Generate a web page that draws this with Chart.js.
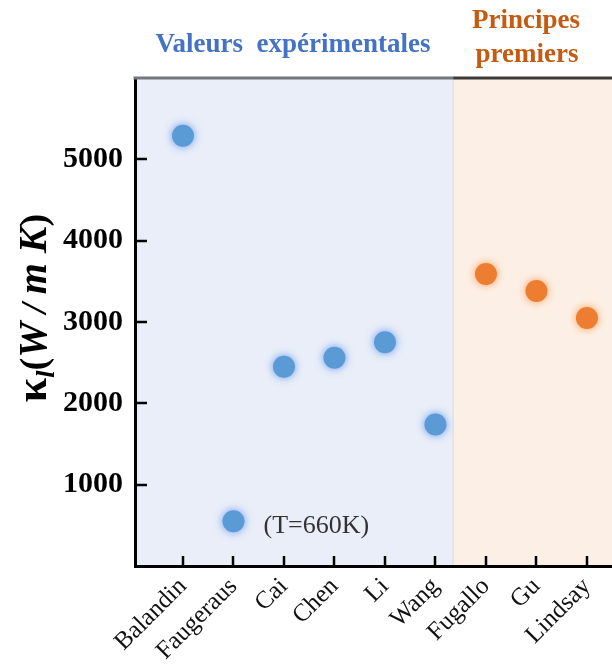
<!DOCTYPE html>
<html>
<head>
<meta charset="utf-8">
<script src="https://cdn.jsdelivr.net/npm/chart.js@4.4.1/dist/chart.umd.min.js"></script>
<style>
  html, body { margin: 0; padding: 0; background: #fff; overflow: hidden; }
  #wrap { width: 612px; height: 666px; }
  canvas { display: block; }
</style>
</head>
<body>
<div id="wrap"><canvas id="c" width="612" height="666"></canvas></div>
<script>
// Lattice thermal conductivity of graphene, W/(m K)
const expLabels = ['Balandin', 'Faugeraus', 'Cai', 'Chen', 'Li', 'Wang'];
const expValues = [5290, 550, 2450, 2560, 2750, 1740];
const dftLabels = ['Fugallo', 'Gu', 'Lindsay'];
const dftValues = [3590, 3380, 3050];
const categories = expLabels.concat(dftLabels);
const yTicks = [1000, 2000, 3000, 4000, 5000];
const groupTitles = ['Valeurs  expérimentales', ['Principes', 'premiers']];
const noteText = '(T=660K)';
const noteIndex = 1; // Faugeraus was measured at 660 K

const SERIF = '"Liberation Serif", "Times New Roman", serif';
const BLUE = '#5b9bd5', ORANGE = '#ed7d31';

const expData = expValues.map((v, i) => ({ x: i + 1, y: v }));
const dftData = dftValues.map((v, i) => ({ x: expLabels.length + i + 1, y: v }));
// boundary between the two shaded groups, in x-axis units
const splitAt = expLabels.length + 0.35;

const decor = {
  id: 'decor',
  beforeDraw(chart) {
    const { ctx, chartArea: a, scales: { x } } = chart;
    const sx = x.getPixelForValue(splitAt);
    ctx.save();
    ctx.fillStyle = '#e9eef8';
    ctx.fillRect(a.left, a.top, sx - a.left, a.bottom - a.top);
    ctx.fillStyle = '#fcf0e6';
    ctx.fillRect(sx, a.top, a.right - sx, a.bottom - a.top);
    ctx.fillStyle = '#e2e4ec';
    ctx.fillRect(sx - 1, a.top, 2, a.bottom - a.top);
    ctx.restore();
  },
  beforeDatasetDraw(chart, args) {
    const ds = chart.data.datasets[args.index];
    const ctx = chart.ctx;
    ctx.save();
    ctx.shadowColor = ds.glowColor;
    ctx.shadowBlur = 9;
    ctx.filter = 'blur(0.7px)';
  },
  afterDatasetDraw(chart) {
    chart.ctx.restore();
  },
  afterDraw(chart) {
    const { ctx, chartArea: a, scales: { x, y } } = chart;
    const sx = x.getPixelForValue(splitAt);
    ctx.save();
    // top frame line
    ctx.lineWidth = 3;
    ctx.strokeStyle = '#74767c';
    ctx.beginPath(); ctx.moveTo(a.left - 1.5, a.top); ctx.lineTo(sx, a.top); ctx.stroke();
    ctx.strokeStyle = '#3a3a3a';
    ctx.beginPath(); ctx.moveTo(sx, a.top); ctx.lineTo(a.right, a.top); ctx.stroke();
    // inward tick marks
    ctx.strokeStyle = '#000';
    ctx.lineWidth = 2.5;
    yTicks.forEach(v => {
      const py = Math.round(y.getPixelForValue(v));
      ctx.beginPath(); ctx.moveTo(a.left, py); ctx.lineTo(a.left + 12, py); ctx.stroke();
    });
    categories.forEach((c, i) => {
      const px = Math.round(x.getPixelForValue(i + 1));
      ctx.beginPath(); ctx.moveTo(px, a.bottom); ctx.lineTo(px, a.bottom - 10); ctx.stroke();
    });
    // group titles
    ctx.textAlign = 'center';
    ctx.textBaseline = 'alphabetic';
    ctx.font = 'bold 27px ' + SERIF;
    ctx.fillStyle = '#4472c4';
    ctx.fillText(groupTitles[0], 293, 52);
    ctx.fillStyle = '#c55a11';
    ctx.fillText(groupTitles[1][0], 526, 28);
    ctx.fillText(groupTitles[1][1], 527, 62);
    // measurement note beside the Faugeraus point
    ctx.font = '26px ' + SERIF;
    ctx.fillStyle = '#333';
    ctx.textAlign = 'left';
    const np = x.getPixelForValue(noteIndex + 1);
    const nq = y.getPixelForValue(expValues[noteIndex]);
    ctx.fillText(noteText, np + 30, nq + 12);
    // y-axis title: κ_l (W / m K)
    const parts = [
      { t: 'κ', f: 'bold 44px ' + SERIF, dy: 0 },
      { t: 'l', f: 'italic bold 26px ' + SERIF, dy: 8 },
      { t: '(', f: 'bold 38px ' + SERIF, dy: 0 },
      { t: 'W', f: 'italic bold 40px ' + SERIF, dy: 0 },
      { t: ' / ', f: 'italic bold 36px ' + SERIF, dy: 0 },
      { t: 'm', f: 'italic bold 40px ' + SERIF, dy: 0 },
      { t: ' K', f: 'italic bold 40px ' + SERIF, dy: 0 },
      { t: ')', f: 'bold 38px ' + SERIF, dy: 0 }
    ];
    let total = 0;
    parts.forEach(p => { ctx.font = p.f; p.w = ctx.measureText(p.t).width; total += p.w; });
    ctx.translate(46, 308);
    ctx.rotate(-Math.PI / 2);
    ctx.fillStyle = '#000';
    let cx = -total / 2;
    parts.forEach(p => { ctx.font = p.f; ctx.fillText(p.t, cx, p.dy); cx += p.w; });
    ctx.restore();
  }
};

new Chart(document.getElementById('c'), {
  type: 'scatter',
  data: {
    datasets: [
      { label: 'Valeurs expérimentales', data: expData, backgroundColor: BLUE, borderWidth: 0,
        pointRadius: 11, pointHoverRadius: 11, glowColor: 'rgba(95,145,240,0.95)' },
      { label: 'Principes premiers', data: dftData, backgroundColor: ORANGE, borderWidth: 0,
        pointRadius: 11, pointHoverRadius: 11, glowColor: 'rgba(250,150,80,0.95)' }
    ]
  },
  options: {
    responsive: false,
    animation: false,
    devicePixelRatio: 1,
    layout: { autoPadding: false, padding: { top: 78, left: 0, right: 0, bottom: 0 } },
    plugins: { legend: { display: false }, tooltip: { enabled: false } },
    scales: {
      x: {
        type: 'linear',
        min: 0.05,
        max: 9.496,
        afterBuildTicks: s => { s.ticks = categories.map((c, i) => ({ value: i + 1 })); },
        afterFit: s => { s.height = 100; s.paddingLeft = 0; s.paddingRight = 0; },
        grid: { display: false, drawTicks: false },
        border: { display: true, color: '#000', width: 3 },
        ticks: {
          autoSkip: false, minRotation: 45, maxRotation: 45, padding: 6,
          color: '#111', font: { family: SERIF, size: 25 },
          callback: v => categories[Math.round(v) - 1]
        }
      },
      y: {
        min: 0,
        max: 6000,
        afterBuildTicks: s => { s.ticks = yTicks.map(v => ({ value: v })); },
        afterFit: s => { s.width = 135; },
        grid: { display: false, drawTicks: false },
        border: { display: true, color: '#000', width: 3 },
        ticks: {
          padding: 12, color: '#000', font: { family: SERIF, size: 30, weight: 'bold' },
          callback: v => String(v)
        }
      }
    }
  },
  plugins: [decor]
});
</script>
</body>
</html>
